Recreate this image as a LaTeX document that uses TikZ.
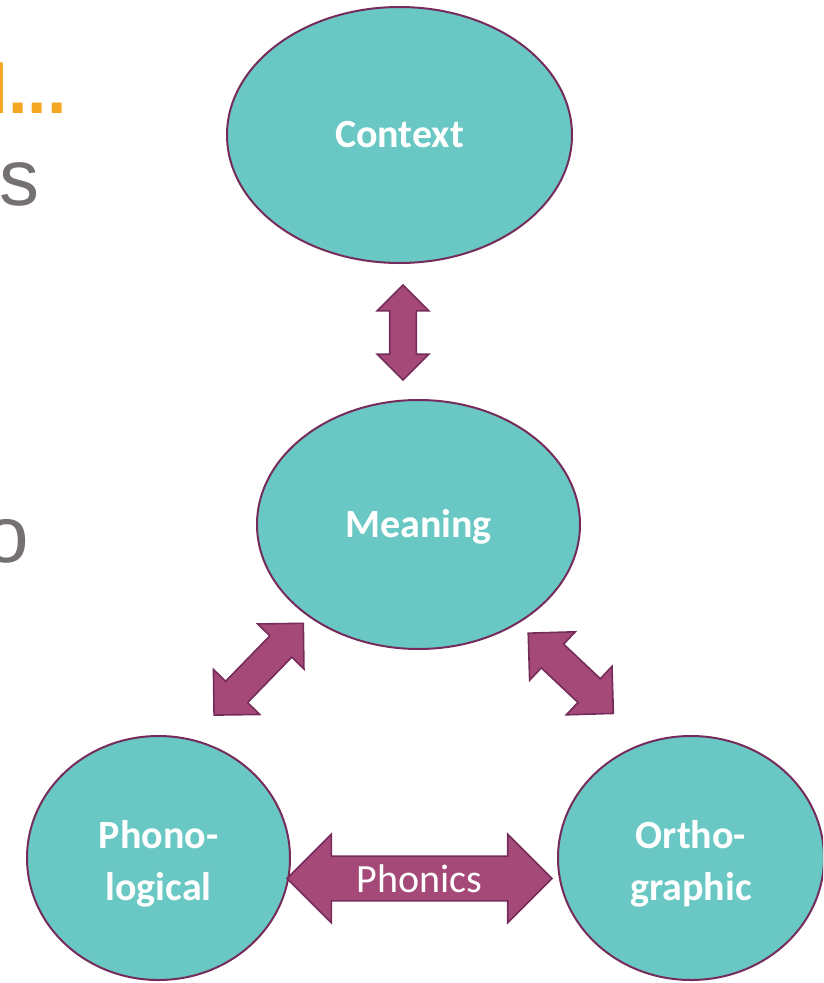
\documentclass[tikz,border=0pt]{standalone}
\usepackage{fontspec}
\setmainfont{Carlito}
\newfontfamily\slidefont{Liberation Sans}
\usetikzlibrary{shapes,positioning,calc}
\definecolor{tealfill}{RGB}{105,200,196}
\definecolor{plumline}{RGB}{118,44,90}
\definecolor{plumfill}{RGB}{165,74,120}
\definecolor{slidegray}{RGB}{118,113,113}
\definecolor{slideorange}{RGB}{245,166,35}

\begin{document}
\begin{tikzpicture}
  [x=1pt,y=-1pt,
   concept/.style={
    ellipse,
    draw=plumline,
    line width=2pt,
    fill=tealfill,
    text=white,
    font=\fontsize{40}{52}\selectfont\bfseries,
    align=center,
    text height=25pt,
    text depth=0pt,
    inner sep=0pt
    },
   link/.style={
    double arrow,
    draw=plumline,
    line width=1.6pt,
    fill=plumfill,
    minimum width=0pt,
    inner xsep=0pt,
    double arrow tip angle=90
    },
   cut/.style={
    anchor=base east,
    inner sep=0pt,
    text=slidegray,
    font=\slidefont\fontsize{80}{96}\selectfont
    }
  ]
  \useasboundingbox (0,0) rectangle (823,983);
  \clip (0,0) rectangle (823,983);

  % resti del testo della slide, tagliati a sinistra
  \node [cut, text=slideorange, font=\slidefont\bfseries\fontsize{70}{84}\selectfont] (wordtitle) at (67,113) {d...};
  \node [cut] (wordas) at (40,205) {as};
  \node [cut] (wordo) at (29.5,562) {o};

  \node [concept, minimum width=345pt, minimum height=256pt] (context) at (399.5,135) {Context};
  \node [concept, minimum width=323pt, minimum height=249pt,
    below=135pt of context, xshift=19pt] (meaning) {Meaning};
  \node [concept, minimum width=263pt, minimum height=244pt, text height=84pt] (phonological) at (158.5,858) {Phono-\\logical};
  \node [concept, minimum width=266pt, minimum height=244pt, text height=84pt,
    right=266pt of phonological] (orthographic) {Ortho-\\graphic};

  \node [link, rotate=90, minimum height=95pt, inner ysep=12.5pt,
    double arrow head extend=12.5pt] (contextmeaning) at (403,332.5) {};
  \node [link, rotate=45.8, minimum height=128pt, inner ysep=14.5pt,
    double arrow head extend=17pt] (meaningphono) at (258.7,669.2) {};
  \node [link, rotate=-43.3, minimum height=117pt, inner ysep=15.5pt,
    double arrow head extend=17pt] (meaningortho) at (570.8,673.3) {};
  \node [link, minimum height=265pt, inner ysep=0pt, text height=35.5pt, text depth=7.5pt,
    double arrow head extend=22pt, text=white, font=\fontsize{40}{48}\selectfont]
    (phonics) at (419.5,878.5) {Phonics};
\end{tikzpicture}
\end{document}
